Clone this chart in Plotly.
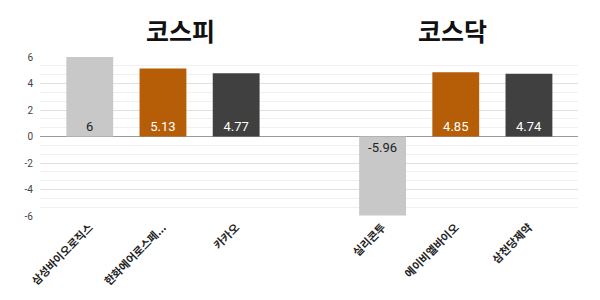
import plotly.graph_objects as go

categories = ["삼성바이오로직스", "한화에어로스페...", "카카오", " ", "실리콘투", "에이비엘바이오", "삼천당제약"]
values = [6, 5.13, 4.77, None, -5.96, 4.85, 4.74]
labels = ["6", "5.13", "4.77", "", "-5.96", "4.85", "4.74"]
bar_colors = ["#c8c8c8", "#b55d07", "#404040", "#ffffff", "#c8c8c8", "#b55d07", "#404040"]
label_colors = ["#222222", "#ffffff", "#ffffff", "#ffffff", "#222222", "#ffffff", "#ffffff"]
group_titles = ["코스피", "코스닥"]
y_ticks = [-6, -4, -2, 0, 2, 4, 6]

fig = go.Figure()
fig.add_trace(go.Bar(
    x=categories, y=values, text=labels,
    marker=dict(color=bar_colors, line=dict(width=0)),
    width=0.64,
    textposition="inside", insidetextanchor="start",
    textfont=dict(family="Roboto, Noto Sans CJK KR", size=13, color=label_colors),
    textangle=0, cliponaxis=False,
))

for title, px in zip(group_titles, [0.262, 0.766]):
    fig.add_annotation(text=title, xref="paper", yref="paper", x=px, y=1.0, yshift=27,
                       xanchor="center", yanchor="middle",
                       showarrow=False, font=dict(family="Noto Sans CJK KR", size=25, color="#111111", weight="bold"))

fig.update_layout(
    width=600, height=300,
    margin=dict(l=40, r=22, t=57, b=84, autoexpand=False),
    paper_bgcolor="white", plot_bgcolor="white",
    showlegend=False,
    xaxis=dict(type="category", categoryorder="array", categoryarray=categories,
               range=[-0.68, 6.67], tickangle=-45, showgrid=False, ticks="", automargin=False,
               ticklabelstandoff=2,
               tickfont=dict(family="Noto Sans CJK KR", size=11, color="#222222", weight="bold")),
    yaxis=dict(range=[-6, 6], tickvals=y_ticks, ticktext=[str(v) for v in y_ticks],
               showgrid=True, gridcolor="#e0e0e0", gridwidth=1, automargin=False,
               zeroline=True, zerolinecolor="#9a9a9a", zerolinewidth=1,
               minor=dict(dtick=2/3, tick0=0, showgrid=True, gridcolor="#f0f0f0", gridwidth=1),
               tickfont=dict(family="Roboto, Noto Sans", size=10, color="#444444"),
               ticklabelstandoff=6),
)

fig.write_html("out.html")
